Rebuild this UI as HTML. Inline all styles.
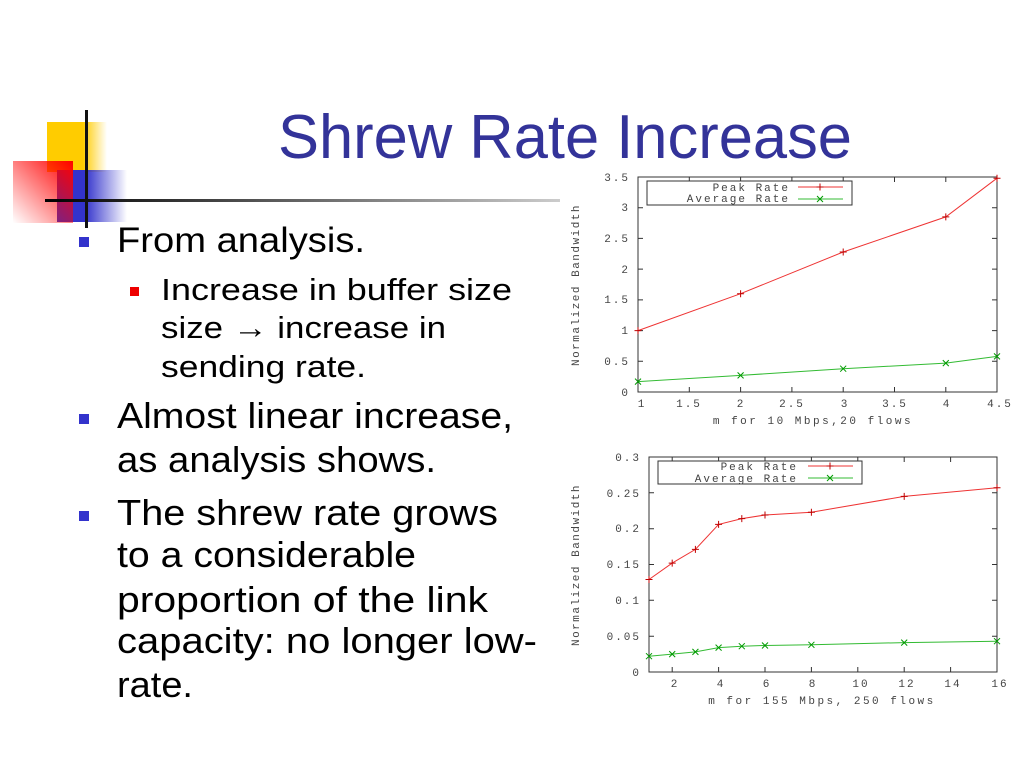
<!DOCTYPE html>
<html><head><meta charset="utf-8"><style>html,body{margin:0;padding:0;background:#fff}svg{display:block}</style></head>
<body>
<svg width="1023" height="767" viewBox="0 0 1023 767" xmlns="http://www.w3.org/2000/svg">
<defs>
<linearGradient id="gy" x1="0" x2="1"><stop offset="0.6" stop-color="#ffcc00"/><stop offset="1" stop-color="#ffcc00" stop-opacity="0"/></linearGradient>
<linearGradient id="gr" x1="1" y1="0" x2="0" y2="1"><stop offset="0" stop-color="#ff0000"/><stop offset="1" stop-color="#ff0000" stop-opacity="0"/></linearGradient>
<linearGradient id="gb" x1="0" x2="1"><stop offset="0.4" stop-color="#3333cc"/><stop offset="1" stop-color="#3333cc" stop-opacity="0"/></linearGradient>
<linearGradient id="gl" x1="0" x2="1"><stop offset="0" stop-color="#000"/><stop offset="1" stop-color="#ccc"/></linearGradient>
<g id="p"><path d="M-3.5 0H3.5M0 -3.5V3.5" stroke="#c00000" stroke-width="1"/></g>
<g id="x"><path d="M-3 -3L3 3M-3 3L3 -3" stroke="#009900" stroke-width="1"/></g>
</defs>
<rect x="47" y="122" width="60" height="50" fill="url(#gy)"/>
<rect x="57" y="170" width="70" height="52" fill="url(#gb)"/>
<rect x="13" y="161" width="60" height="62" fill="url(#gr)"/>
<rect x="45" y="199" width="515" height="3" fill="url(#gl)"/>
<rect x="85" y="110" width="3" height="118" fill="#111"/>
<text x="278" y="158" font-family="Liberation Sans, sans-serif" font-size="62" fill="#333399" textLength="574" lengthAdjust="spacingAndGlyphs">Shrew Rate Increase</text>
<g font-family="Liberation Sans, sans-serif" fill="#000">
<rect x="79" y="237" width="10" height="10" fill="#3333cc"/>
<text x="117" y="252" font-size="35" textLength="248" lengthAdjust="spacingAndGlyphs">From analysis.</text>
<rect x="130" y="287" width="9" height="9" fill="#ee0000"/>
<text x="161" y="300" font-size="31" textLength="351" lengthAdjust="spacingAndGlyphs">Increase in buffer size</text>
<text x="161" y="338" font-size="31" textLength="285" lengthAdjust="spacingAndGlyphs">size → increase in</text>
<text x="161" y="377" font-size="31" textLength="205" lengthAdjust="spacingAndGlyphs">sending rate.</text>
<rect x="79" y="414" width="10" height="10" fill="#3333cc"/>
<text x="117" y="428" font-size="36" textLength="396" lengthAdjust="spacingAndGlyphs">Almost linear increase,</text>
<text x="117" y="472" font-size="36" textLength="319" lengthAdjust="spacingAndGlyphs">as analysis shows.</text>
<rect x="79" y="511" width="10" height="10" fill="#3333cc"/>
<text x="117" y="525" font-size="36" textLength="381" lengthAdjust="spacingAndGlyphs">The shrew rate grows</text>
<text x="117" y="567" font-size="36" textLength="299" lengthAdjust="spacingAndGlyphs">to a considerable</text>
<text x="117" y="612" font-size="36" textLength="371" lengthAdjust="spacingAndGlyphs">proportion of the link</text>
<text x="117" y="653" font-size="36" textLength="420" lengthAdjust="spacingAndGlyphs">capacity: no longer low-</text>
<text x="117" y="697" font-size="36" textLength="76" lengthAdjust="spacingAndGlyphs">rate.</text>
</g>
<g font-family="Liberation Mono, monospace" font-size="11" fill="#444">
<rect x="638" y="177" width="359" height="215" fill="none" stroke="#333" stroke-width="1"/>
<path d="M638 361.3h5M638 330.6h5M638 299.9h5M638 269.1h5M638 238.4h5M638 207.7h5M997 361.3h-5M997 330.6h-5M997 299.9h-5M997 269.1h-5M997 238.4h-5M997 207.7h-5M689.3 392v-5M740.6 392v-5M791.9 392v-5M843.2 392v-5M894.5 392v-5M945.8 392v-5M689.3 177v5M740.6 177v5M791.9 177v5M843.2 177v5M894.5 177v5M945.8 177v5" stroke="#333"/>
<g text-anchor="end" letter-spacing="2">
<text x="630" y="396">0</text><text x="630" y="365">0.5</text><text x="630" y="334">1</text><text x="630" y="303">1.5</text><text x="630" y="273">2</text><text x="630" y="242">2.5</text><text x="630" y="211">3</text><text x="630" y="181">3.5</text>
</g>
<g text-anchor="middle" letter-spacing="2">
<text x="642" y="407">1</text><text x="689" y="407">1.5</text><text x="741" y="407">2</text><text x="792" y="407">2.5</text><text x="845" y="407">3</text><text x="895" y="407">3.5</text><text x="947" y="407">4</text><text x="1000" y="407">4.5</text>
<text x="813" y="424" letter-spacing="2.5">m for 10 Mbps,20 flows</text>
<text transform="translate(579,285) rotate(-90)" letter-spacing="1.5">Normalized Bandwidth</text>
</g>
<rect x="647" y="181" width="205" height="24" fill="#fff" stroke="#333"/>
<text x="790" y="191" text-anchor="end" letter-spacing="2">Peak Rate</text>
<text x="790" y="202" text-anchor="end" letter-spacing="2">Average Rate</text>
<path d="M798 187h45" stroke="#ee3333"/><use href="#p" x="820" y="187"/>
<path d="M798 199h45" stroke="#33bb33"/><use href="#x" x="820" y="199"/>
<polyline points="638,330.6 740.6,293.7 843.2,252 945.8,216.9 997,178.2" fill="none" stroke="#ee3333"/>
<polyline points="638,381.6 740.6,375.4 843.2,368.7 945.8,363.1 997,356.4" fill="none" stroke="#33bb33"/>
<use href="#p" x="638" y="330.6"/><use href="#p" x="740.6" y="293.7"/><use href="#p" x="843.2" y="252"/><use href="#p" x="945.8" y="216.9"/><use href="#p" x="997" y="178.2"/>
<use href="#x" x="638" y="381.6"/><use href="#x" x="740.6" y="375.4"/><use href="#x" x="843.2" y="368.7"/><use href="#x" x="945.8" y="363.1"/><use href="#x" x="997" y="356.4"/>
</g>
<g font-family="Liberation Mono, monospace" font-size="11" fill="#444">
<rect x="649" y="457" width="348" height="215" fill="none" stroke="#333" stroke-width="1"/>
<path d="M649 636.2h5M649 600.3h5M649 564.5h5M649 528.7h5M649 492.8h5M997 636.2h-5M997 600.3h-5M997 564.5h-5M997 528.7h-5M997 492.8h-5M672.2 672v-5M718.6 672v-5M765 672v-5M811.4 672v-5M857.8 672v-5M904.2 672v-5M950.6 672v-5M672.2 457v5M718.6 457v5M765 457v5M811.4 457v5M857.8 457v5M904.2 457v5M950.6 457v5" stroke="#333"/>
<g text-anchor="end" letter-spacing="2">
<text x="641" y="676">0</text><text x="641" y="640">0.05</text><text x="641" y="604">0.1</text><text x="641" y="568">0.15</text><text x="641" y="532">0.2</text><text x="641" y="497">0.25</text><text x="641" y="461">0.3</text>
</g>
<g text-anchor="middle" letter-spacing="2">
<text x="675" y="687">2</text><text x="721" y="687">4</text><text x="767" y="687">6</text><text x="813" y="687">8</text><text x="861" y="687">10</text><text x="907" y="687">12</text><text x="953" y="687">14</text><text x="1000" y="687">16</text>
<text x="822" y="704" letter-spacing="2.5">m for 155 Mbps, 250 flows</text>
<text transform="translate(579,565) rotate(-90)" letter-spacing="1.5">Normalized Bandwidth</text>
</g>
<rect x="658" y="461" width="204" height="23" fill="#fff" stroke="#333"/>
<text x="798" y="470" text-anchor="end" letter-spacing="2">Peak Rate</text>
<text x="798" y="482" text-anchor="end" letter-spacing="2">Average Rate</text>
<path d="M808 466h45" stroke="#ee3333"/><use href="#p" x="830" y="466"/>
<path d="M808 478h45" stroke="#33bb33"/><use href="#x" x="830" y="478"/>
<polyline points="649,579.5 672.2,563.1 695.4,549.4 718.6,524.4 741.8,518.6 765,515 811.4,512.2 904.2,496.4 997,487.8" fill="none" stroke="#ee3333"/>
<polyline points="649,656.2 672.2,654.1 695.4,651.9 718.6,647.6 741.8,646.2 765,645.5 811.4,644.8 904.2,642.6 997,641.2" fill="none" stroke="#33bb33"/>
<use href="#p" x="649" y="579.5"/><use href="#p" x="672.2" y="563.1"/><use href="#p" x="695.4" y="549.4"/><use href="#p" x="718.6" y="524.4"/><use href="#p" x="741.8" y="518.6"/><use href="#p" x="765" y="515"/><use href="#p" x="811.4" y="512.2"/><use href="#p" x="904.2" y="496.4"/><use href="#p" x="997" y="487.8"/>
<use href="#x" x="649" y="656.2"/><use href="#x" x="672.2" y="654.1"/><use href="#x" x="695.4" y="651.9"/><use href="#x" x="718.6" y="647.6"/><use href="#x" x="741.8" y="646.2"/><use href="#x" x="765" y="645.5"/><use href="#x" x="811.4" y="644.8"/><use href="#x" x="904.2" y="642.6"/><use href="#x" x="997" y="641.2"/>
</g>
</svg>
</body></html>
